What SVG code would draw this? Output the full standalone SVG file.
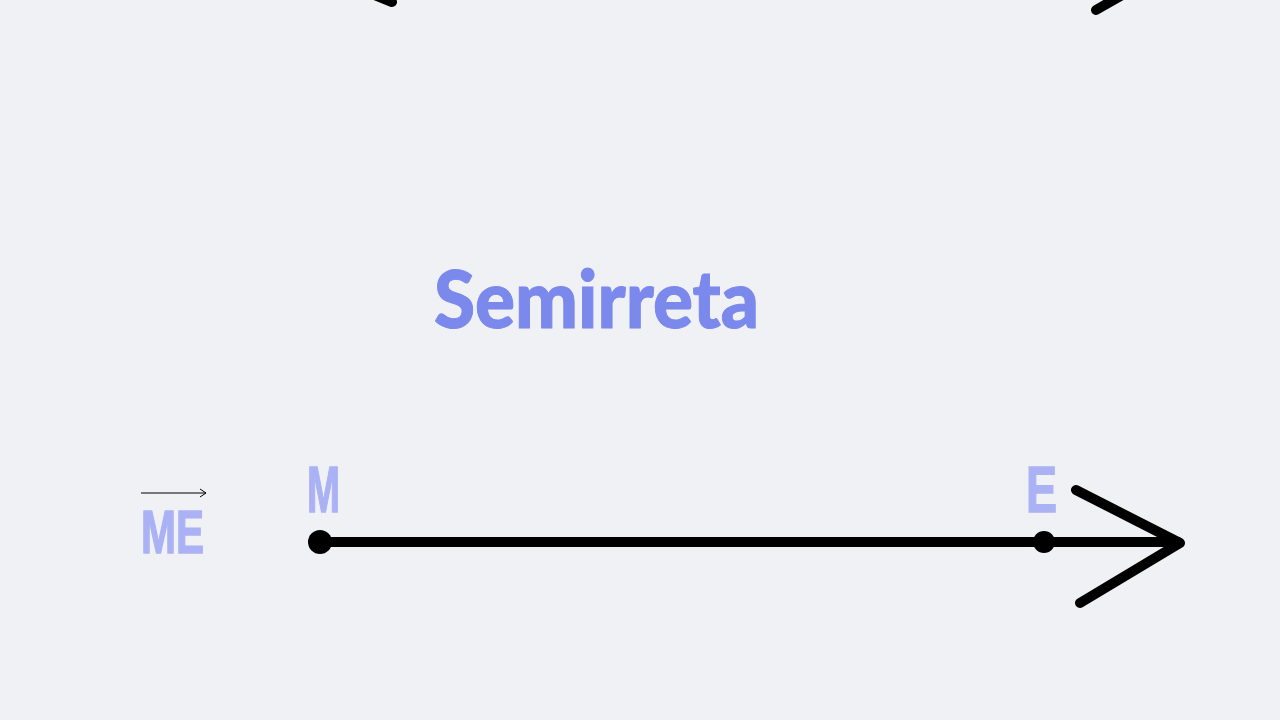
<svg xmlns="http://www.w3.org/2000/svg" width="1280" height="720" viewBox="0 0 1280 720">
<style>
.lbl{font-family:"Liberation Sans",Arial,sans-serif;font-weight:bold;fill:#aab2f5;stroke:#aab2f5;stroke-width:1.5}
.title{font-family:"Lato","Liberation Sans",sans-serif;font-weight:900;fill:#7b88ec;stroke:#7b88ec;stroke-width:1}
.stk{stroke:#000;stroke-width:10;stroke-linecap:round;stroke-linejoin:round;fill:none}
</style>
<defs>
<marker id="vh" markerWidth="8" markerHeight="10" refX="7" refY="5" orient="auto" markerUnits="userSpaceOnUse">
<path d="M1,1 L7,5 L1,9" fill="none" stroke="#000" stroke-width="1"/>
</marker>
</defs>
<rect width="1280" height="720" fill="#f0f1f5"/>
<g id="top-fragments">
<path class="stk" d="M372,-6 L392,2"/>
<path class="stk" d="M1096,10 L1124,-6"/>
</g>
<g id="title">
<text class="title" x="434" y="328" font-size="80" textLength="325" lengthAdjust="spacingAndGlyphs">Semirreta</text>
</g>
<g id="notation">
<line x1="141" y1="493" x2="206" y2="493" stroke="#000" stroke-width="1.2" marker-end="url(#vh)"/>
<text class="lbl" x="141" y="553" font-size="62" textLength="63" lengthAdjust="spacingAndGlyphs">ME</text>
</g>
<g id="connectors">
<line class="stk" x1="320" y1="542" x2="1178" y2="542"/>
<path class="stk" d="M1076,490 L1180,543 L1080,603"/>
</g>
<g id="point-M">
<circle cx="320" cy="542" r="12" fill="#000"/>
<text class="lbl" x="307" y="512" font-size="64" textLength="33" lengthAdjust="spacingAndGlyphs">M</text>
</g>
<g id="point-E">
<circle cx="1044" cy="542" r="11" fill="#000"/>
<text class="lbl" x="1026" y="512" font-size="64" textLength="31" lengthAdjust="spacingAndGlyphs">E</text>
</g>
</svg>
